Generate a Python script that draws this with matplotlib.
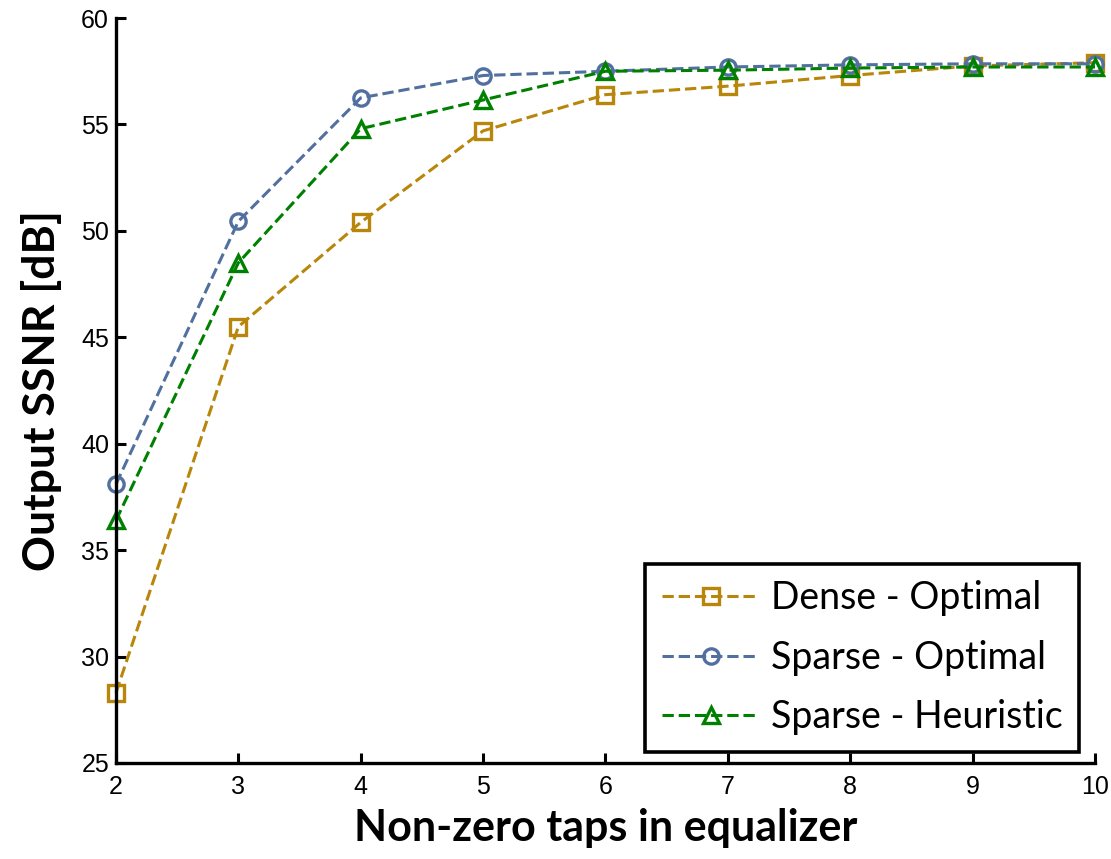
import numpy as np
import matplotlib.pyplot as plt

plt.rcParams['font.family'] = ['Lato', 'DejaVu Sans']

taps = np.array([2, 3, 4, 5, 6, 7, 8, 9, 10])
dense_opt = np.array([28.3, 45.5, 50.4, 54.7, 56.4, 56.8, 57.3, 57.75, 57.9])
sparse_opt = np.array([38.1, 50.45, 56.25, 57.3, 57.5, 57.7, 57.8, 57.85, 57.85])
sparse_heur = np.array([36.4, 48.5, 54.8, 56.15, 57.5, 57.55, 57.65, 57.7, 57.7])

fig = plt.figure(figsize=(11.11, 8.59), dpi=100)
ax = fig.add_axes([0.1044, 0.1118, 0.8812, 0.8672])

ax.plot(taps, dense_opt, '--s', color='#B8860B', lw=2.2, ms=11, mfc='none', mew=2.4,
        label='Dense - Optimal', clip_on=False)
ax.plot(taps, sparse_opt, '--o', color='#52709F', lw=2.2, ms=11, mfc='none', mew=2.4,
        label='Sparse - Optimal', clip_on=False)
ax.plot(taps, sparse_heur, '--^', color='#008000', lw=2.2, ms=12, mfc='none', mew=2.4,
        label='Sparse - Heuristic', clip_on=False)

ax.set_xlim(2, 10)
ax.set_ylim(25, 60)
ax.set_xticks(taps)
ax.set_yticks(np.arange(25, 61, 5))
ax.spines['top'].set_visible(False)
ax.spines['right'].set_visible(False)
for s in ['left', 'bottom']:
    ax.spines[s].set_linewidth(2.4)
ax.tick_params(direction='in', length=7, width=2.2, labelsize=18, pad=5)
ax.tick_params(axis='x', pad=9)
for lab in ax.get_xticklabels() + ax.get_yticklabels():
    lab.set_family('Liberation Sans')

ax.set_xlabel('Non-zero taps in equalizer', fontsize=31, fontweight='bold', labelpad=6)
ax.set_ylabel('Output SSNR [dB]', fontsize=32, fontweight='bold', labelpad=14)

leg = ax.legend(loc='lower right', fontsize=27, frameon=True, fancybox=False,
                edgecolor='black', framealpha=1, handlelength=2.6, handletextpad=0.3,
                borderpad=0.45, labelspacing=0.62, borderaxespad=0,
                bbox_to_anchor=(0.984, 0.015))
leg.get_frame().set_linewidth(2.6)

fig.savefig('out.png', dpi=100)
